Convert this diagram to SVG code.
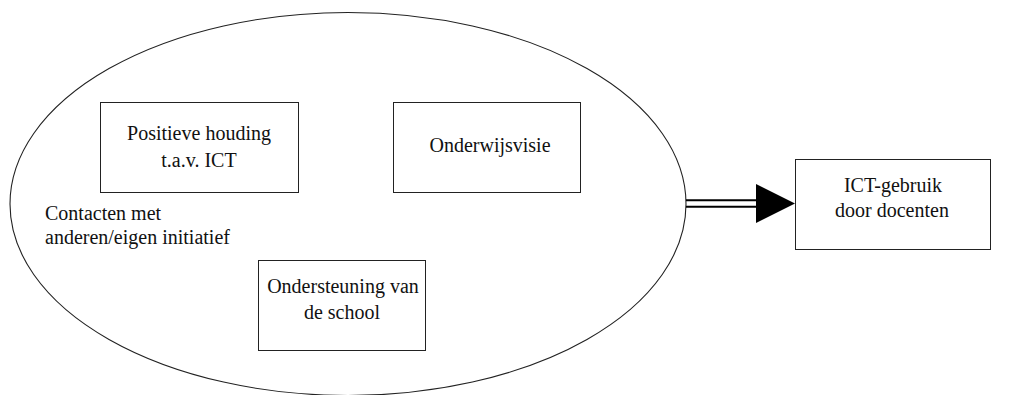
<svg xmlns="http://www.w3.org/2000/svg" width="1011" height="395" viewBox="0 0 1011 395">
<style>
.box{fill:#fff;stroke:#222;stroke-width:1}
.t{font-family:"Liberation Serif","Times New Roman",serif;font-size:20px;fill:#111}
.c{text-anchor:middle}
.ln{stroke:#000;stroke-width:2;fill:none}
</style>
<rect width="1011" height="395" fill="#fff"/>
<g id="context">
<ellipse cx="348" cy="204" rx="338" ry="191.5" fill="none" stroke="#222" stroke-width="1.1"/>
<text class="t" x="45" y="220">Contacten met</text>
<text class="t" x="45" y="244">anderen/eigen initiatief</text>
</g>
<g id="houding">
<rect class="box" x="100.5" y="102.5" width="198" height="90"/>
<text class="t c" x="199" y="140">Positieve houding</text>
<text class="t c" x="199" y="167">t.a.v. ICT</text>
</g>
<g id="visie">
<rect class="box" x="393.5" y="102.5" width="187" height="90"/>
<text class="t c" x="490" y="152">Onderwijsvisie</text>
</g>
<g id="ondersteuning">
<rect class="box" x="258.5" y="260.5" width="167" height="90"/>
<text class="t c" x="343" y="293">Ondersteuning van</text>
<text class="t c" x="342" y="319">de school</text>
</g>
<g id="gebruik">
<rect class="box" x="795.5" y="159.5" width="195" height="90"/>
<text class="t c" x="893" y="192">ICT-gebruik</text>
<text class="t c" x="892" y="217">door docenten</text>
</g>
<g id="connectors">
<line class="ln" x1="686" y1="200.3" x2="758" y2="200.3"/>
<line class="ln" x1="686" y1="206.7" x2="758" y2="206.7"/>
<polygon points="756,184 795,203.5 756,223" fill="#000"/>
</g>
</svg>
